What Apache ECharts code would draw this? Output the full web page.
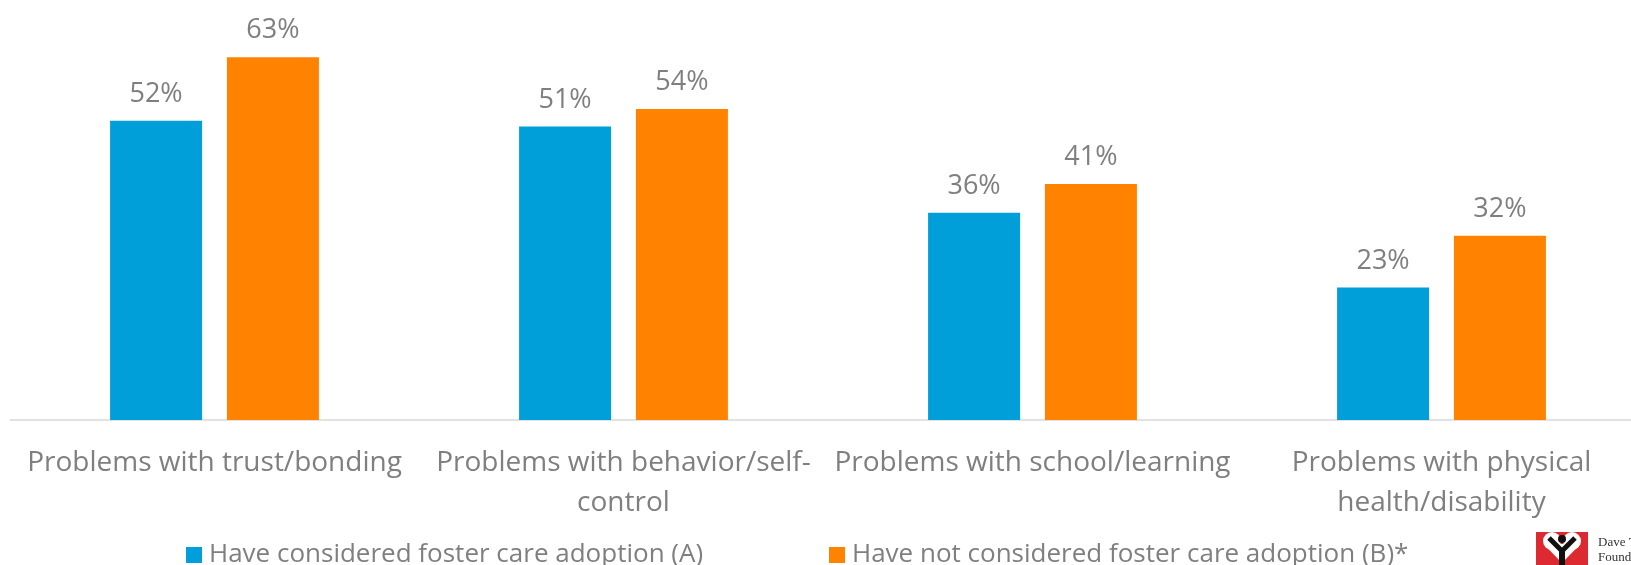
<!DOCTYPE html>
<html>
<head>
<meta charset="utf-8">
<style>
  html, body { margin: 0; padding: 0; background: #fff; }
  #container { width: 1631px; height: 565px; }
</style>
<script src="https://cdn.jsdelivr.net/npm/echarts@6/dist/echarts.min.js"></script>
</head>
<body>
<div id="container"></div>
<script>
var categories = [
    'Problems with trust/bonding',
    'Problems with behavior/self-\ncontrol',
    'Problems with school/learning',
    'Problems with physical\nhealth/disability'
];
var seriesNames = [
    'Have considered foster care adoption (A)',
    'Have not considered foster care adoption (B)*'
];
var consideredValues = [52, 51, 36, 23];
var notConsideredValues = [63, 54, 41, 32];

var dom = document.getElementById('container');
var myChart = echarts.init(dom);
var font = '"Open Sans", sans-serif';
var grey = '#7f7f7f';

var labelStyle = {
    show: true,
    position: 'top',
    distance: 13,
    color: grey,
    fontFamily: font,
    fontSize: 27,
    formatter: '{c}%'
};

var option = {
    animation: false,
    textStyle: { fontFamily: font },
    // the plot runs a little past the right edge, like the original slide crop
    grid: { left: 10, width: 1636, top: 17, bottom: 145, containLabel: false, outerBoundsMode: 'none' },
    legend: [
        {
            data: [seriesNames[0]],
            left: 181, top: 537,
            itemWidth: 16, itemHeight: 16, icon: 'rect',
            textStyle: { color: grey, fontSize: 26, fontFamily: font, padding: [0, 0, 0, 2] }
        },
        {
            data: [seriesNames[1]],
            left: 824, top: 537,
            itemWidth: 16, itemHeight: 16, icon: 'rect',
            textStyle: { color: grey, fontSize: 26, fontFamily: font, padding: [0, 0, 0, 2] }
        }
    ],
    xAxis: {
        type: 'category',
        data: categories,
        axisTick: { show: false },
        axisLine: { lineStyle: { color: '#d9d9d9', width: 1.5 } },
        axisLabel: {
            interval: 0,
            margin: 23,
            color: grey,
            fontFamily: font,
            fontSize: 28,
            lineHeight: 40,
            align: 'center'
        }
    },
    yAxis: {
        type: 'value',
        min: 0,
        max: 70,
        show: false,
        splitLine: { show: false }
    },
    series: [
        {
            name: seriesNames[0],
            type: 'bar',
            data: consideredValues,
            barWidth: 92,
            barGap: '27%',
            itemStyle: { color: '#009fd9' },
            label: labelStyle
        },
        {
            name: seriesNames[1],
            type: 'bar',
            data: notConsideredValues,
            barWidth: 92,
            barGap: '27%',
            itemStyle: { color: '#ff8200' },
            label: labelStyle
        }
    ],
    // logo in the bottom right corner, cut off by the edge
    graphic: [
        { type: 'rect', shape: { x: 1536, y: 532, width: 52, height: 52 }, style: { fill: '#dd2a30' } },
        { type: 'circle', shape: { cx: 1552, cy: 541, r: 9 }, style: { fill: '#fff' } },
        { type: 'circle', shape: { cx: 1572, cy: 541, r: 9 }, style: { fill: '#fff' } },
        { type: 'polygon', shape: { points: [[1543.5, 544], [1580.5, 544], [1562, 563]] }, style: { fill: '#fff' } },
        { type: 'circle', shape: { cx: 1562, cy: 539, r: 4 }, style: { fill: '#111' } },
        { type: 'polyline', shape: { points: [[1549, 538], [1562, 551], [1575, 538]] }, style: { stroke: '#111', lineWidth: 5, fill: null } },
        { type: 'rect', shape: { x: 1559, y: 548, width: 6, height: 20 }, style: { fill: '#111' } },
        { type: 'text', x: 1598, y: 543, style: { text: 'Dave Thomas', font: '13px "Liberation Serif", serif', fill: '#333', verticalAlign: 'middle' } },
        { type: 'text', x: 1598, y: 558, style: { text: 'Foundation', font: '13px "Liberation Serif", serif', fill: '#333', verticalAlign: 'middle' } }
    ]
};

myChart.setOption(option);

window.addEventListener('resize', function () {
    myChart.resize();
});
</script>
</body>
</html>
